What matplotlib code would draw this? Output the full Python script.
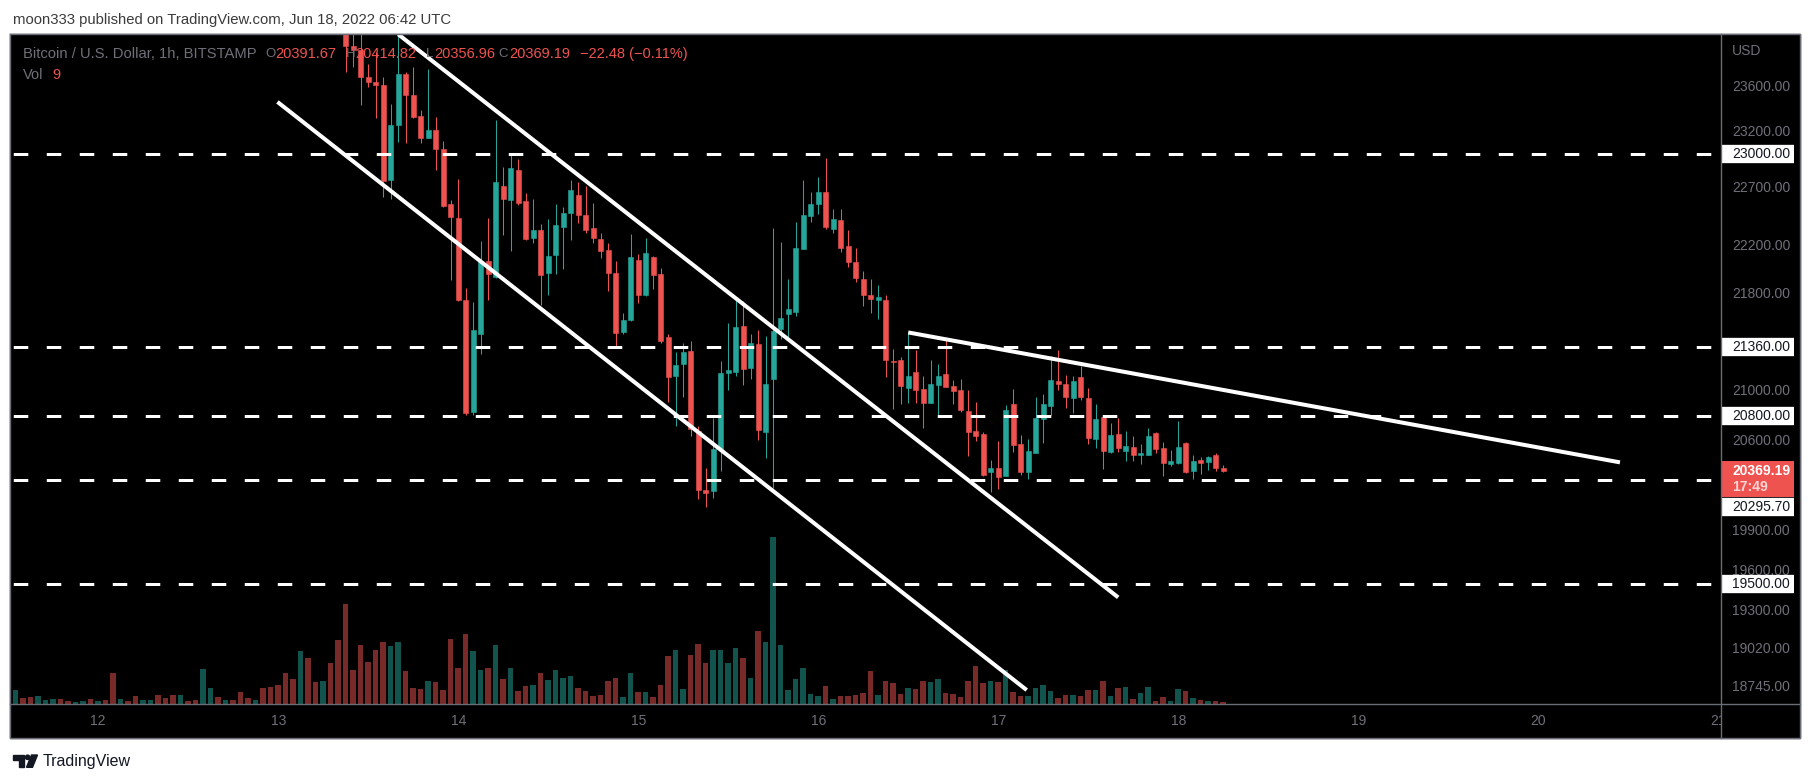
import numpy as np
import matplotlib.pyplot as plt
from matplotlib import transforms
from matplotlib.patches import Rectangle, Polygon, Circle

plt.rcParams['lines.scale_dashes'] = False
FONT = ['Liberation Sans', 'DejaVu Sans']
plt.rcParams['font.family'] = FONT

# BTC/USD Bitstamp 1h candles, hours counted from 2022-06-12 00:00 UTC
hours = np.arange(-11, 151)

opens = [29000, 29150, 29050, 28900, 28980, 29020, 29080, 28990, 28950, 28970, 29000,
         28930, 28960, 28900, 28400, 28500, 28430, 28250, 28320, 28380, 28200, 28100, 27950,
         28050, 27980, 27850, 28250, 28400, 28200, 28300, 28150, 27700, 27500, 27600, 27050,
         26600, 26350, 25800, 25300, 25900, 25400, 25100, 25300, 24900,
         24160, 23975, 23935, 23692, 23647, 23615, 22770, 23257, 23717, 23526,
         23340, 23143, 23212, 23043, 22560, 22440, 21745, 20830, 21465, 22074,
         21942, 22718, 22596, 22859, 22587, 22270, 22339, 21976, 22125, 22368,
         22485, 22640, 22465, 22356, 22261, 22167, 21970, 21482, 21580, 22083,
         21787, 22110, 21965, 21443, 21124, 21219, 21324, 20680, 20219, 20206,
         20542, 21145, 21156, 21530, 21186, 21381, 20673, 21100, 21505, 21631,
         21649, 22178, 22462, 22565, 22666, 22350, 22424, 22200, 22066, 21920,
         21787, 21748, 21745, 21245, 21250, 21022, 21154, 21019, 20905, 21048,
         21137, 21040, 21008, 20840, 20680, 20656, 20354, 20388, 20329, 20895,
         20577, 20354, 20508, 20777, 20879, 21081, 21056, 20946, 21113, 20943,
         20619, 20792, 20516, 20657, 20524, 20553, 20492, 20492, 20664, 20545,
         20422, 20430, 20585, 20362, 20451, 20437, 20490, 20391.67]

highs = [29200, 29180, 29100, 29020, 29050, 29120, 29100, 29010, 29000, 29030, 29020,
         28990, 28980, 28920, 28550, 28520, 28450, 28350, 28400, 28390, 28230, 28120, 28080,
         28070, 28000, 28300, 28450, 28420, 28330, 28310, 28160, 27750, 27650, 27620, 27100,
         26700, 26400, 25850, 26000, 25950, 25500, 25400, 25350, 24950,
         24250, 24100, 24100, 23813, 23920, 23692, 23450, 24090, 23740, 23783,
         23391, 23759, 23332, 23114, 22602, 22777, 21849, 21729, 22247, 22440,
         23301, 22888, 23005, 22958, 22663, 22611, 22390, 22432, 22562, 22539,
         22771, 22757, 22720, 22573, 22315, 22230, 22074, 21635, 22307, 22133,
         22273, 22120, 22013, 21466, 21318, 21387, 21407, 20720, 20388, 20784,
         21243, 21555, 21753, 21737, 21466, 21497, 21447, 22356, 22236, 21920,
         22407, 22768, 22666, 22795, 22964, 22519, 22519, 22339, 22184, 21990,
         21920, 21870, 21787, 21340, 21275, 21470, 21332, 21122, 21251, 21219,
         21433, 21089, 21097, 21008, 20911, 20672, 20451, 20601, 20887, 21016,
         20649, 20617, 20951, 20976, 21283, 21332, 21129, 21121, 21202, 21024,
         20895, 20800, 20744, 20784, 20680, 20641, 20577, 20704, 20672, 20593,
         20529, 20760, 20592, 20490, 20474, 20480, 20506, 20414.82]

lows = [28950, 29000, 28850, 28880, 28950, 29000, 28960, 28920, 28930, 28950, 28900,
        28900, 28870, 28300, 28350, 28400, 28200, 28230, 28300, 28150, 28080, 27900, 27930,
        27960, 27800, 27820, 28200, 28150, 28180, 28100, 27650, 27450, 27480, 26950, 26550,
        26250, 25700, 25200, 25250, 25350, 25050, 25050, 24850, 24120,
        23738, 23778, 23435, 23600, 23317, 22625, 22611, 23108, 23099, 23320,
        23094, 23140, 22859, 22540, 21914, 21739, 20810, 20810, 21305, 21751,
        21928, 22298, 22161, 22553, 22255, 22230, 21704, 21787, 21965, 22007,
        22255, 22401, 22315, 22230, 22102, 21823, 21346, 21466, 21574, 21723,
        21781, 21837, 21395, 20913, 20721, 20954, 20643, 20149, 20087, 20157,
        20368, 21008, 21124, 21048, 21100, 20609, 20469, 20230, 21425, 21442,
        21615, 22178, 22410, 22476, 22345, 22316, 22153, 22024, 21895, 21698,
        21640, 21590, 21116, 20853, 20893, 20906, 20906, 20706, 20905, 20800,
        21030, 20895, 20829, 20485, 20603, 20329, 20204, 20225, 20329, 20516,
        20334, 20303, 20508, 20587, 20806, 21008, 20866, 20826, 20927, 20577,
        20547, 20383, 20508, 20516, 20445, 20445, 20422, 20488, 20508, 20329,
        20406, 20422, 20348, 20306, 20344, 20375, 20368, 20356.96]

closes = [29150, 29050, 28900, 28980, 29020, 29080, 28990, 28950, 28970, 29000, 28930,
          28960, 28900, 28400, 28500, 28430, 28250, 28320, 28380, 28200, 28100, 27950, 28050,
          27980, 27850, 28250, 28400, 28200, 28300, 28150, 27700, 27500, 27600, 27050, 26600,
          26350, 25800, 25300, 25900, 25400, 25100, 25300, 24900, 24160,
          23975, 23935, 23692, 23647, 23615, 22765, 23257, 23717, 23526, 23331,
          23143, 23212, 23043, 22547, 22453, 21745, 20826, 21497, 22074, 21965,
          22751, 22605, 22880, 22568, 22261, 22339, 21957, 22116, 22382, 22485,
          22683, 22467, 22339, 22272, 22159, 21975, 21471, 21580, 22110, 21787,
          22142, 21957, 21410, 21116, 21210, 21316, 20693, 20219, 20193, 20537,
          21145, 21170, 21521, 21181, 21390, 20690, 21056, 21488, 21594, 21670,
          22187, 22467, 22562, 22666, 22367, 22433, 22187, 22066, 21934, 21790,
          21756, 21770, 21253, 21232, 21043, 21124, 21011, 20905, 21056, 21121,
          21035, 21003, 20847, 20675, 20643, 20334, 20388, 20315, 20847, 20569,
          20354, 20521, 20784, 20895, 21089, 21060, 20954, 21081, 20954, 20627,
          20776, 20524, 20649, 20547, 20561, 20492, 20506, 20641, 20539, 20430,
          20443, 20553, 20354, 20445, 20430, 20474, 20391.67, 20369.19]

volumes = [63, 27, 32, 36, 18, 22, 22, 14, 9, 14, 22,
           14, 18, 140, 22, 14, 36, 18, 18, 40, 27, 40, 40,
           14, 18, 158, 72, 32, 18, 18, 54, 27, 18, 72, 77,
           86, 140, 113, 239, 207, 99, 104, 185, 288, 450, 153, 266,
           189, 243, 279, 261, 279, 149, 72, 68, 104, 99, 63, 293,
           162, 315, 239, 153, 162, 266, 113, 162, 59, 81, 86, 140,
           108, 153, 117, 126, 72, 59, 36, 41, 104, 117, 32, 140,
           54, 54, 32, 86, 216, 243, 68, 221, 270, 185, 243, 243,
           185, 252, 207, 117, 329, 279, 753, 266, 63, 113, 162, 45,
           36, 81, 22, 36, 36, 41, 50, 149, 41, 104, 95, 45,
           72, 68, 104, 99, 113, 50, 45, 32, 104, 171, 95, 104,
           99, 153, 54, 36, 36, 72, 86, 59, 27, 41, 41, 36,
           63, 63, 104, 36, 72, 77, 22, 50, 77, 14, 32, 14,
           68, 59, 27, 18, 14, 14, 9]

# horizontal levels and drawn trend lines (hour, price)
levels = [23000, 21360, 20800, 20295.70, 19500]
channel_low_h = [23.9, 123.8]
channel_low_p = [23465, 18723]
channel_up_h = [40.0, 136.0]
channel_up_p = [24082, 19401]
resist_h = [108.0, 202.9]
resist_p = [21478, 20433]

price_ticks = [23600, 23200, 22700, 22200, 21800, 21000, 20600,
               19900, 19600, 19300, 19020, 18745]
day_hours = [0, 24, 48, 72, 96, 120, 144, 168, 192, 216]
day_labels = ['12', '13', '14', '15', '16', '17', '18', '19', '20', '21']

UP, DOWN = '#26a69a', '#ef5350'
VUP, VDOWN = '#13534d', '#782a28'
GREY = '#6f7079'
BORDER = '#6a6d78'

W, H = 1813, 783
XLIM = (-11.76, 216.33)
YLIM = (18621, 24082)


def box(x0, y0, x1, y1):
    return [x0 / W, 1 - y1 / H, (x1 - x0) / W, (y1 - y0) / H]


fig = plt.figure(figsize=(W / 100, H / 100), dpi=100, facecolor='white')

bg = fig.add_axes([0, 0, 1, 1])
bg.set_xlim(0, W)
bg.set_ylim(H, 0)
bg.axis('off')
bg.add_patch(Rectangle((10, 34.3), 1789.7, 703.7, color='black'))
bg.set_zorder(0)

# volume pane under the price pane
vax = fig.add_axes(box(10, 34.3, 1720.7, 704.3))
vax.set_zorder(1)
vax.patch.set_visible(False)
o = np.array(opens)
c = np.array(closes)
up = c >= o
vax.bar(hours, volumes, width=0.73, color=np.where(up, VUP, VDOWN), linewidth=0)
vax.set_ylim(0, 3015)
vax.set_xlim(*XLIM)
vax.axis('off')

ax = fig.add_axes(box(10, 34.3, 1720.7, 704.3))
ax.set_zorder(2)
ax.patch.set_visible(False)
ax.set_yscale('log')
ax.set_xlim(*XLIM)
ax.set_ylim(*YLIM)
ax.axis('off')

col = np.where(up, UP, DOWN)
ax.vlines(hours, lows, highs, colors=col, lw=0.75)
ax.bar(hours, np.abs(c - o), bottom=np.minimum(o, c), width=0.68,
       color=col, edgecolor=col, linewidth=0.4)

for p in levels:
    ax.axhline(p, color='white', lw=2.16, linestyle=(21.4, (10.44, 13.32)))

for hh, pp in [(channel_low_h, channel_low_p), (channel_up_h, channel_up_p),
               (resist_h, resist_p)]:
    ax.plot(hh, pp, color='white', lw=2.9, solid_capstyle='butt')

# price scale on the right
pax = fig.add_axes(box(1720.7, 34.3, 1799.7, 704.3))
pax.set_zorder(3)
pax.patch.set_visible(False)
pax.set_yscale('log')
pax.set_ylim(*YLIM)
pax.set_xlim(0, 1)
pax.axis('off')
T = transforms.blended_transform_factory(pax.transAxes, pax.transData)
for p in price_ticks:
    pax.text(0.1435, p, f'{p:.2f}', transform=T, ha='left', va='center',
             color=GREY, fontsize=10, zorder=1)


def level_tag(price, shift=0.0):
    tr = transforms.offset_copy(T, y=shift, units='dots')
    pax.plot([0, 0.932], [price, price], transform=tr, color='white', lw=13.2,
             solid_capstyle='butt', clip_on=False, zorder=3)
    pax.text(0.1435, price, f'{price:.2f}', transform=tr, ha='left', va='center',
             color='#131722', fontsize=10, zorder=4, clip_on=False)


for p in levels:
    level_tag(p, -27.2 if p == 20295.70 else 0.0)

last = closes[-1]
tr = transforms.offset_copy(T, y=-8.6, units='dots')
pax.plot([0, 0.932], [last, last], transform=tr, color=DOWN, lw=25.9,
         solid_capstyle='butt', clip_on=False, zorder=3)
pax.text(0.1435, last, f'{last:.2f}', transform=T, ha='left', va='center',
         color='white', fontsize=10, fontweight='bold', zorder=4)
tr2 = transforms.offset_copy(T, y=-16.9, units='dots')
pax.text(0.1435, last, '17:49', transform=tr2, ha='left', va='center',
         color='#fcd6d5', fontsize=10, fontweight='bold', zorder=4)

# time scale
tax = fig.add_axes(box(10, 704.3, 1720.7, 738))
tax.set_zorder(3)
tax.patch.set_visible(False)
tax.set_xlim(*XLIM)
tax.set_ylim(0, 1)
tax.axis('off')
for d, lab in zip(day_hours, day_labels):
    tax.text(d, 0.5, lab, ha='center', va='center', color=GREY, fontsize=10,
             clip_on=True)

# frame, headers, footer
top = fig.add_axes([0, 0, 1, 1])
top.set_zorder(5)
top.patch.set_visible(False)
top.set_xlim(0, W)
top.set_ylim(H, 0)
top.axis('off')
for xs, ys in [([10, 1799.7, 1799.7, 10, 10], [34.3, 34.3, 738, 738, 34.3]),
               ([1720.7, 1720.7], [34.3, 738]),
               ([10, 1799.7], [704.3, 704.3])]:
    top.plot(xs, ys, color=BORDER, lw=1.0)

top.text(13.4, 20, 'moon333 published on TradingView.com, Jun 18, 2022 06:42 UTC',
         fontsize=10.7, color='#3b3b3b', ha='left', va='center')
top.text(1732, 50.7, 'USD', fontsize=10, color=GREY, ha='left', va='center')

chg = closes[-1] - closes[-2]
pct = chg / closes[-2] * 100
legend = [(23, 'Bitcoin / U.S. Dollar, 1h, BITSTAMP', GREY, 10.6),
          (265.5, 'O', GREY, 9.5), (275.4, f'{opens[-1]:.2f}', DOWN, 10.5),
          (346, 'H', GREY, 9.5), (355, f'{highs[-1]:.2f}', DOWN, 10.5),
          (426, 'L', GREY, 9.5), (434, f'{lows[-1]:.2f}', DOWN, 10.5),
          (498.7, 'C', GREY, 9.5), (509, f'{closes[-1]:.2f}', DOWN, 10.5),
          (580, f'\u2212{abs(chg):.2f} (\u2212{abs(pct):.2f}%)', DOWN, 10.5)]
for x, s, colr, fs in legend:
    top.text(x, 54, s, fontsize=fs, color=colr, ha='left', va='center')
top.text(23, 75, 'Vol', fontsize=10.5, color=GREY, ha='left', va='center')
top.text(52.7, 75, f'{volumes[-1]}', fontsize=10.5, color=DOWN, ha='left', va='center')

ink = '#131722'
top.add_patch(Polygon([(12.7, 755), (24.3, 755), (24.3, 767.3), (18.5, 767.3),
                       (18.5, 759.5), (12.7, 759.5)], closed=True, color=ink))
top.add_patch(Circle((27.6, 757.3), 2.2, color=ink))
top.add_patch(Polygon([(31.5, 755), (37.5, 755), (32.5, 767.3), (26.5, 767.3)],
                      closed=True, color=ink))
top.text(43, 761.7, 'TradingView', fontsize=11.5, color=ink, ha='left', va='center')

fig.savefig('out.png', dpi=100, facecolor='white')
